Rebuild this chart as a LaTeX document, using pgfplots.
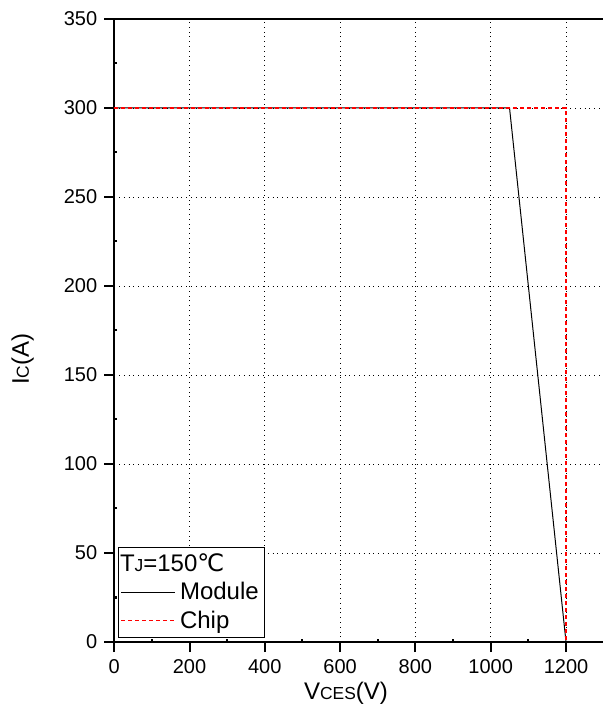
\documentclass[border=0pt]{standalone}
\usepackage{fontspec}
\setmainfont{Liberation Sans}
\newfontfamily\dejavu{DejaVu Sans}
\usepackage{pgfplots}
\pgfplotsset{compat=1.18}
\newcommand{\smc}[1]{{\fontsize{8.7}{9}\selectfont #1}}
\begin{document}
\begin{tikzpicture}[x=1pt,y=1pt]
\begin{axis}[
  at={(57.1pt,32pt)}, anchor=south west,
  scale only axis, width=248.5pt, height=311.5pt,
  xmin=0, xmax=1320, ymin=0, ymax=350,
  axis x line*=box, axis y line*=left,
  xtick={0,200,...,1200}, ytick={0,50,...,350},
  minor xtick={100,300,...,1300}, minor y tick num=1,
  xtick pos=bottom, ytick pos=left, tick align=outside,
  major tick length=5pt, minor tick length=-1.5pt,
  axis line style={line width=1pt},
  every tick/.style={black, line width=1pt},
  grid=major, major grid style={dotted, black, line width=0.4pt},
  tick label style={font=\fontsize{10}{12}\selectfont},
  /pgf/number format/assume math mode=true,
  scaled ticks=false, /pgf/number format/set thousands separator={},
  xlabel={V\smc{CES}(V)}, ylabel={I\smc{C}(A)},
  label style={font=\fontsize{12}{14}\selectfont},
  xlabel style={at={(axis description cs:0.4664,-0.0819)}, anchor=center},
  ylabel style={at={(axis description cs:-0.184,0.454)}, anchor=center},
  legend style={at={(axis description cs:0.0083,0.1525)}, anchor=north west,
    draw=black, line width=0.5pt, font=\fontsize{12}{14}\selectfont,
    inner sep=1pt, row sep=0pt},
  legend cell align=left,
  legend image code/.code={\draw[#1] (0pt,0pt) -- (27pt,0pt);},
]
\addlegendimage{empty legend}
\addlegendentry{\hspace{-30pt}T\smc{J}=150{\dejavu ℃}}
\addplot[black, line width=0.5pt] coordinates {(0,300) (1050,300) (1200,0)};
\addlegendentry{Module}
\addplot[red, dash pattern=on 2pt off 1.5pt, line width=0.6pt] coordinates {(0,300) (1200,300) (1200,0)};
\addlegendentry{Chip}
\end{axis}
\pgfresetboundingbox
\path[use as bounding box] (0,0) rectangle (301pt,353pt);
\end{tikzpicture}
\end{document}
